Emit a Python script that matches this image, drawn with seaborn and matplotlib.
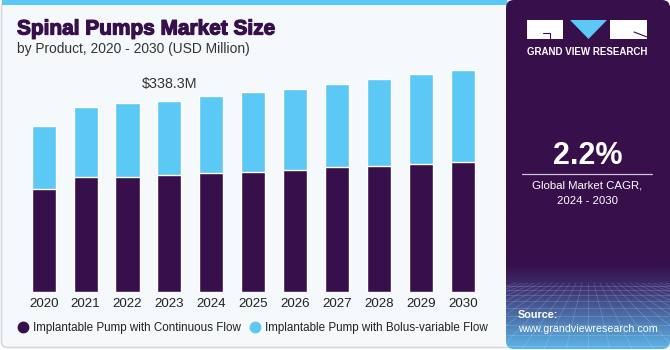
import numpy as np
import pandas as pd
import matplotlib.pyplot as plt
import matplotlib.patheffects as pe
import seaborn as sns
from matplotlib.patches import FancyBboxPatch, Rectangle, Polygon
from matplotlib.lines import Line2D

# ── data (USD Million) ──────────────────────────────────────────
years = ["2020", "2021", "2022", "2023", "2024", "2025",
         "2026", "2027", "2028", "2029", "2030"]
continuous = [183.0, 203.1, 204.1, 207.1, 210.7, 213.0,
              215.4, 220.7, 223.0, 226.6, 230.6]
bolus = [110.1, 123.6, 129.7, 131.2, 135.4, 140.2,
         143.6, 147.7, 153.7, 158.9, 162.5]
series_names = ["Implantable Pump with Continuous Flow",
                "Implantable Pump with Bolus-variable Flow"]
label_year = "2023"
label_text = "$338.3M"
cagr_text = "2.2%"

DARK = "#370f4a"
LIGHT = "#5bc8f5"
BG = "#f5f9fc"

df = pd.DataFrame({"year": years, "continuous": continuous, "bolus": bolus})
df["total"] = df["continuous"] + df["bolus"]

sns.set_style("white")
plt.rcParams["font.family"] = ["Liberation Sans", "DejaVu Sans"]

W, H = 670, 350
fig = plt.figure(figsize=(6.7, 3.5), dpi=100)
fig.patch.set_facecolor("white")

# background layer in pixel coordinates (y down)
bg = fig.add_axes([0, 0, 1, 1], zorder=0)
bg.set_xlim(0, W)
bg.set_ylim(H, 0)
bg.axis("off")

bg.add_patch(FancyBboxPatch((1.5, 1.5), 515, 346, boxstyle="round,pad=0,rounding_size=6",
                            fc=BG, ec="#d4d8dc", lw=1.2))
bg.add_patch(Rectangle((2, 0), 505, 4.5, fc=LIGHT, ec="none"))

# right panel with vertical gradient
grad = np.ones((200, 1, 3))
top_c = np.array([55, 15, 74]) / 255
mid_c = np.array([60, 45, 110]) / 255
bot_c = np.array([92, 180, 230]) / 255
for i, t in enumerate(np.linspace(0, 1, 200)):
    if t < 0.76:
        grad[i, 0] = top_c
    elif t < 0.82:
        f = (t - 0.76) / 0.06
        grad[i, 0] = top_c * (1 - f) + mid_c * f
    else:
        f = (t - 0.82) / 0.18
        grad[i, 0] = mid_c * (1 - f) + bot_c * f
clip = FancyBboxPatch((506, 0), 164, 349, boxstyle="round,pad=0,rounding_size=8",
                      fc="none", ec="none")
bg.add_patch(clip)
im = bg.imshow(grad, extent=(506, 670, 349, 0), aspect="auto", zorder=1)
im.set_clip_path(clip)

# faint grid in the lower part of the panel
for k in range(-12, 20):
    ln, = bg.plot([588 + k * 6, 588 + k * 22], [283, 349], color="white",
                  lw=0.5, alpha=0.2, zorder=2)
    ln.set_clip_path(clip)
for yy in [286, 290, 295, 301, 308, 316, 325, 335, 346]:
    ln, = bg.plot([506, 670], [yy, yy], color="white", lw=0.5, alpha=0.2, zorder=2)
    ln.set_clip_path(clip)

# logo
bg.add_patch(Rectangle((527, 20), 36, 19, fc="white", ec="none", zorder=3))
bg.add_patch(Polygon([(570, 20), (607, 20), (588.5, 39)], fc=LIGHT, ec="none", zorder=3))
bg.add_patch(Rectangle((610, 20), 37, 19, fc="white", ec="none", zorder=3))
bg.plot([543, 550, 550], [33, 33, 38], color=DARK, lw=0.8, zorder=4)
bg.plot([634, 647], [32, 37], color=DARK, lw=0.8, zorder=4)
bg.text(587, 52, "GRAND VIEW RESEARCH", color="white", fontsize=7.0, fontweight="bold",
        ha="center", va="center", zorder=4)

# CAGR block
bg.text(587.5, 156, cagr_text, color="white", fontsize=22, fontweight="bold",
        ha="center", va="center", zorder=4)
bg.plot([522, 652], [173.5, 173.5], color="#cfc3d8", lw=0.9, zorder=4)
bg.text(587.5, 185.5, "Global Market CAGR,", color="white", fontsize=8.2,
        ha="center", va="center", zorder=4)
bg.text(587.5, 200.5, "2024 - 2030", color="white", fontsize=8.2,
        ha="center", va="center", zorder=4)
bg.text(518, 315, "Source:", color="white", fontsize=7.8, fontweight="bold",
        ha="left", va="center", zorder=4)
bg.text(518, 329.5, "www.grandviewresearch.com", color="white", fontsize=7.7,
        ha="left", va="center", zorder=4)

# titles (stroke thickens the bold face towards the reference's heavy font)
bg.text(17, 29, "Spinal Pumps Market Size", color=DARK, fontsize=15.0, fontweight="bold",
        ha="left", va="center", zorder=4,
        path_effects=[pe.withStroke(linewidth=0.9, foreground=DARK)])
bg.text(17, 49, "by Product, 2020 - 2030 (USD Million)", color="#333333", fontsize=9.95,
        ha="left", va="center", zorder=4)

# ── bar chart ───────────────────────────────────────────────────
base_px = 292.3
ymax = 420
px_per_unit = 191.6 / 338.3
ax_h = ymax * px_per_unit
ax = fig.add_axes([22.75 / W, (H - base_px) / H, 460.9 / W, ax_h / H], zorder=5)
ax.patch.set_alpha(0)

sns.barplot(data=df, x="year", y="total", color=LIGHT, width=0.575,
            saturation=1, ax=ax)
sns.barplot(data=df, x="year", y="continuous", color=DARK, width=0.575,
            saturation=1, ax=ax)

ax.set_xlim(-0.5, 10.5)
ax.set_ylim(0, ymax)
ax.set_xlabel("")
ax.set_ylabel("")
ax.set_yticks([])
sns.despine(ax=ax, left=True, bottom=True)
ax.tick_params(axis="x", length=0, pad=4, labelsize=9.6, labelcolor="#222222")

i = years.index(label_year)
ax.text(i, df["total"][i] + 17 / px_per_unit, label_text, ha="center", va="center",
        fontsize=10.3, color="#333333")

handles = [Line2D([], [], marker="o", ls="", color=DARK, markersize=7.5),
           Line2D([], [], marker="o", ls="", color=LIGHT, markersize=7.5)]
fig.legend(handles, series_names, loc="center left",
           bbox_to_anchor=(16.9 / W, (H - 327.7) / H), ncol=2, frameon=False,
           borderpad=0, borderaxespad=0, handlelength=1.0,
           fontsize=8.35, handletextpad=0.39, columnspacing=0.73, labelcolor="#222222")

fig.savefig("out.png", dpi=100)
